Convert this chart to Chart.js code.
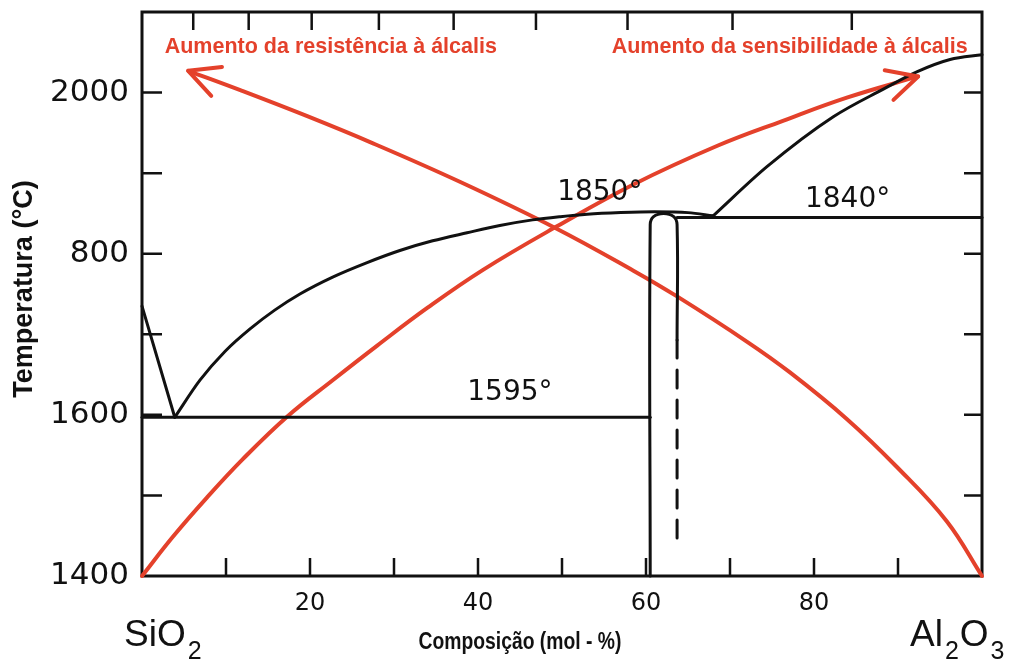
<!DOCTYPE html>
<html>
<head>
<meta charset="utf-8">
<script src="https://cdn.jsdelivr.net/npm/chart.js@4/dist/chart.umd.min.js"></script>
<style>
html,body{margin:0;padding:0;background:#fff;}
#wrap{width:1018px;height:664px;}
</style>
</head>
<body>
<div id="wrap"><canvas id="diagramm" width="1018" height="664"></canvas></div>
<script>
// Werte (x = mol-% Al2O3, T = °C)
const sensX = [0, 3.7, 7.7, 12, 17.3, 22.7, 28, 34, 40.6, 49.4, 58.5, 68.5, 76.3, 84, 92.4];
const sensT = [1400, 1449, 1497, 1545, 1598, 1643, 1686, 1733, 1780, 1834, 1886, 1934, 1965, 1994, 2020];

const resX = [5.5, 11.7, 19.6, 27.5, 37.9, 49.2, 58.5, 63.7, 72.0, 77.1, 83.9, 89.9, 95.8, 100];
const resT = [2027, 2003, 1971, 1937, 1889, 1832, 1779, 1747, 1691, 1653, 1595, 1535, 1468, 1400];

const liqLinksX = [0, 3.9];
const liqLinksT = [1735, 1597];

const mullitX = [3.9, 6.9, 9.9, 12.9, 15.8, 18.8, 22.7, 26.8, 30.7, 34.6, 38.7, 42.6, 46.5, 49.8, 53, 57, 61, 65, 68];
const mullitT = [1597, 1643, 1679, 1707, 1730, 1750, 1771, 1789, 1804, 1816, 1826, 1835, 1842, 1846, 1849, 1851, 1852, 1851, 1847];

const korundX = [68.0, 74.4, 82.3, 88.2, 92.3, 96.2, 100];
const korundT = [1847, 1908, 1970, 2004, 2026, 2041, 2047];

const eutektX = [0, 60.5];
const eutektT = [1597, 1597];

const linie1840X = [63.7, 100];
const linie1840T = [1845, 1845];

const schleifeX = [60.5, 60.5, 60.9, 62.1, 63.3, 63.7, 63.7];
const schleifeT = [1400, 1836, 1846, 1850, 1846, 1836, 1693];

const gestricheltX = [63.7, 63.7];
const gestricheltT = [1693, 1436];

// Achsen
const xTickWerte = [20, 40, 60, 80];
const yTickWerte = [1400, 1600, 1800, 2000];
const yTickTexte = ['1400', '1600', '800', '2000'];
const untenTicks = [10, 20, 30, 40, 50, 60, 70, 80, 90];
const obenTicks = [6.1, 12.7, 20.2, 28.2, 37.1, 46.9, 57.8, 70.3, 84.5];
const seitenTicks = [1500, 1600, 1700, 1800, 1900, 2000];

// Beschriftungen im Diagramm
const temperaturTexte = ['1595°', '1850°', '1840°'];
const temperaturX = [43.8, 54.5, 84.0];
const temperaturT = [1627, 1876, 1867];

const ROT = '#e4412b';

function punkte(xs, ts){
    return xs.map((v, i) => ({x: v, y: ts[i]}));
}

function linie(xs, ts, farbe, breite, glatt, strich){
    return {
        data: punkte(xs, ts),
        showLine: true,
        borderColor: farbe,
        borderWidth: breite,
        pointRadius: 0,
        tension: glatt ? 0.4 : 0,
        cubicInterpolationMode: glatt === 'mono' ? 'monotone' : 'default',
        borderDash: strich || [],
        borderCapStyle: 'round',
        clip: false,
        fill: false
    };
}

const rahmenPlugin = {
    id: 'rahmen',
    beforeDatasetsDraw(chart){
        const {ctx, chartArea: a, scales: {x, y}} = chart;
        ctx.save();
        ctx.strokeStyle = '#111';
        ctx.lineWidth = 3;
        ctx.strokeRect(a.left, a.top, a.right - a.left, a.bottom - a.top);
        ctx.lineWidth = 2.5;
        ctx.beginPath();
        untenTicks.forEach(v => {
            const px = x.getPixelForValue(v);
            ctx.moveTo(px, a.bottom); ctx.lineTo(px, a.bottom - 18);
        });
        obenTicks.forEach(v => {
            const px = x.getPixelForValue(v);
            ctx.moveTo(px, a.top); ctx.lineTo(px, a.top + 18);
        });
        seitenTicks.forEach(v => {
            const py = y.getPixelForValue(v);
            ctx.moveTo(a.left, py); ctx.lineTo(a.left + 20, py);
            ctx.moveTo(a.right, py); ctx.lineTo(a.right - 18, py);
        });
        ctx.stroke();
        ctx.restore();
    },
    afterDatasetsDraw(chart){
        const {ctx, scales: {x, y}} = chart;
        ctx.save();

        // Pfeilspitzen
        function spitze(xs, ts, amEnde){
            const n = xs.length;
            const i = amEnde ? n - 1 : 0;
            const j = amEnde ? n - 2 : 1;
            const sx = x.getPixelForValue(xs[i]), sy = y.getPixelForValue(ts[i]);
            const qx = x.getPixelForValue(xs[j]), qy = y.getPixelForValue(ts[j]);
            const w = Math.atan2(qy - sy, qx - sx);
            const L = 34, th = 0.47;
            ctx.beginPath();
            ctx.moveTo(sx + L * Math.cos(w + th), sy + L * Math.sin(w + th));
            ctx.lineTo(sx, sy);
            ctx.lineTo(sx + L * Math.cos(w - th), sy + L * Math.sin(w - th));
            ctx.strokeStyle = ROT;
            ctx.lineWidth = 4;
            ctx.lineCap = 'round';
            ctx.lineJoin = 'round';
            ctx.stroke();
        }
        spitze(sensX, sensT, true);
        spitze(resX, resT, false);

        // rote Texte
        ctx.fillStyle = ROT;
        ctx.font = 'bold 21.5px "Liberation Sans", Arial, sans-serif';
        ctx.textBaseline = 'middle';
        ctx.textAlign = 'left';
        ctx.fillText('Aumento da resistência à álcalis', x.getPixelForValue(2.7), y.getPixelForValue(2056));
        ctx.textAlign = 'right';
        ctx.fillText('Aumento da sensibilidade à álcalis', x.getPixelForValue(98.3), y.getPixelForValue(2056));

        // Temperaturen
        ctx.fillStyle = '#111';
        ctx.font = '28px "DejaVu Sans", sans-serif';
        ctx.textAlign = 'center';
        temperaturTexte.forEach((t, i) => {
            ctx.fillText(t, x.getPixelForValue(temperaturX[i]), y.getPixelForValue(temperaturT[i]));
        });

        // SiO2 / Al2O3
        ctx.textAlign = 'left';
        ctx.textBaseline = 'alphabetic';
        const basis = 646;
        function formel(teile, startX){
            let px = startX;
            teile.forEach(([txt, tief]) => {
                ctx.font = tief ? '25px "Liberation Sans", Arial, sans-serif' : '37px "Liberation Sans", Arial, sans-serif';
                ctx.fillText(txt, px, tief ? basis + 13 : basis);
                px += ctx.measureText(txt).width + (tief ? 1 : 2);
            });
        }
        formel([['SiO', false], ['2', true]], x.getPixelForValue(0) - 18);
        formel([['Al', false], ['2', true], ['O', false], ['3', true]], x.getPixelForValue(100) - 72);

        // Achsentitel
        ctx.textAlign = 'center';
        ctx.textBaseline = 'middle';
        ctx.save();
        ctx.translate(520, 643);
        ctx.scale(0.84, 1);
        ctx.font = 'bold 23px "Liberation Sans", Arial, sans-serif';
        ctx.fillText('Composição (mol - %)', 0, 0);
        ctx.restore();
        ctx.translate(25, 289);
        ctx.rotate(-Math.PI / 2);
        ctx.font = 'bold 27px "Liberation Sans", Arial, sans-serif';
        ctx.fillText('Temperatura (°C)', 0, 0);
        ctx.restore();
    }
};

new Chart(document.getElementById('diagramm'), {
    type: 'scatter',
    data: {
        datasets: [
            linie(liqLinksX, liqLinksT, '#111', 3, false),
            linie(mullitX, mullitT, '#111', 3, 'mono'),
            linie(korundX, korundT, '#111', 3, 'mono'),
            linie(eutektX, eutektT, '#111', 3, false),
            linie(linie1840X, linie1840T, '#111', 3, false),
            linie(schleifeX, schleifeT, '#111', 3, true),
            linie(gestricheltX, gestricheltT, '#111', 3, false, [18, 12]),
            linie(sensX, sensT, ROT, 4, true),
            linie(resX, resT, ROT, 4, true)
        ]
    },
    options: {
        responsive: false,
        animation: false,
        devicePixelRatio: 1,
        layout: {padding: {top: 12, right: 36, left: 0, bottom: 0}},
        plugins: {legend: {display: false}, tooltip: {enabled: false}},
        scales: {
            x: {
                type: 'linear', min: 0, max: 100,
                afterFit: s => { s.height = 88; s.paddingLeft = 0; s.paddingRight = 0; },
                border: {display: false},
                grid: {display: false, drawTicks: false},
                afterBuildTicks: s => { s.ticks = xTickWerte.map(v => ({value: v})); },
                ticks: {
                    autoSkip: false, maxRotation: 0, padding: 13,
                    color: '#111',
                    font: {family: 'DejaVu Sans', size: 24},
                    callback: v => String(v)
                }
            },
            y: {
                type: 'linear', min: 1400, max: 2100,
                afterFit: s => { s.width = 142; s.paddingTop = 0; s.paddingBottom = 0; },
                border: {display: false},
                grid: {display: false, drawTicks: false},
                afterBuildTicks: s => { s.ticks = yTickWerte.map(v => ({value: v})); },
                ticks: {
                    autoSkip: false, padding: 13,
                    color: '#111',
                    font: {family: 'DejaVu Sans', size: 31},
                    callback: v => yTickTexte[yTickWerte.indexOf(v)]
                }
            }
        }
    },
    plugins: [rahmenPlugin]
});
</script>
</body>
</html>
